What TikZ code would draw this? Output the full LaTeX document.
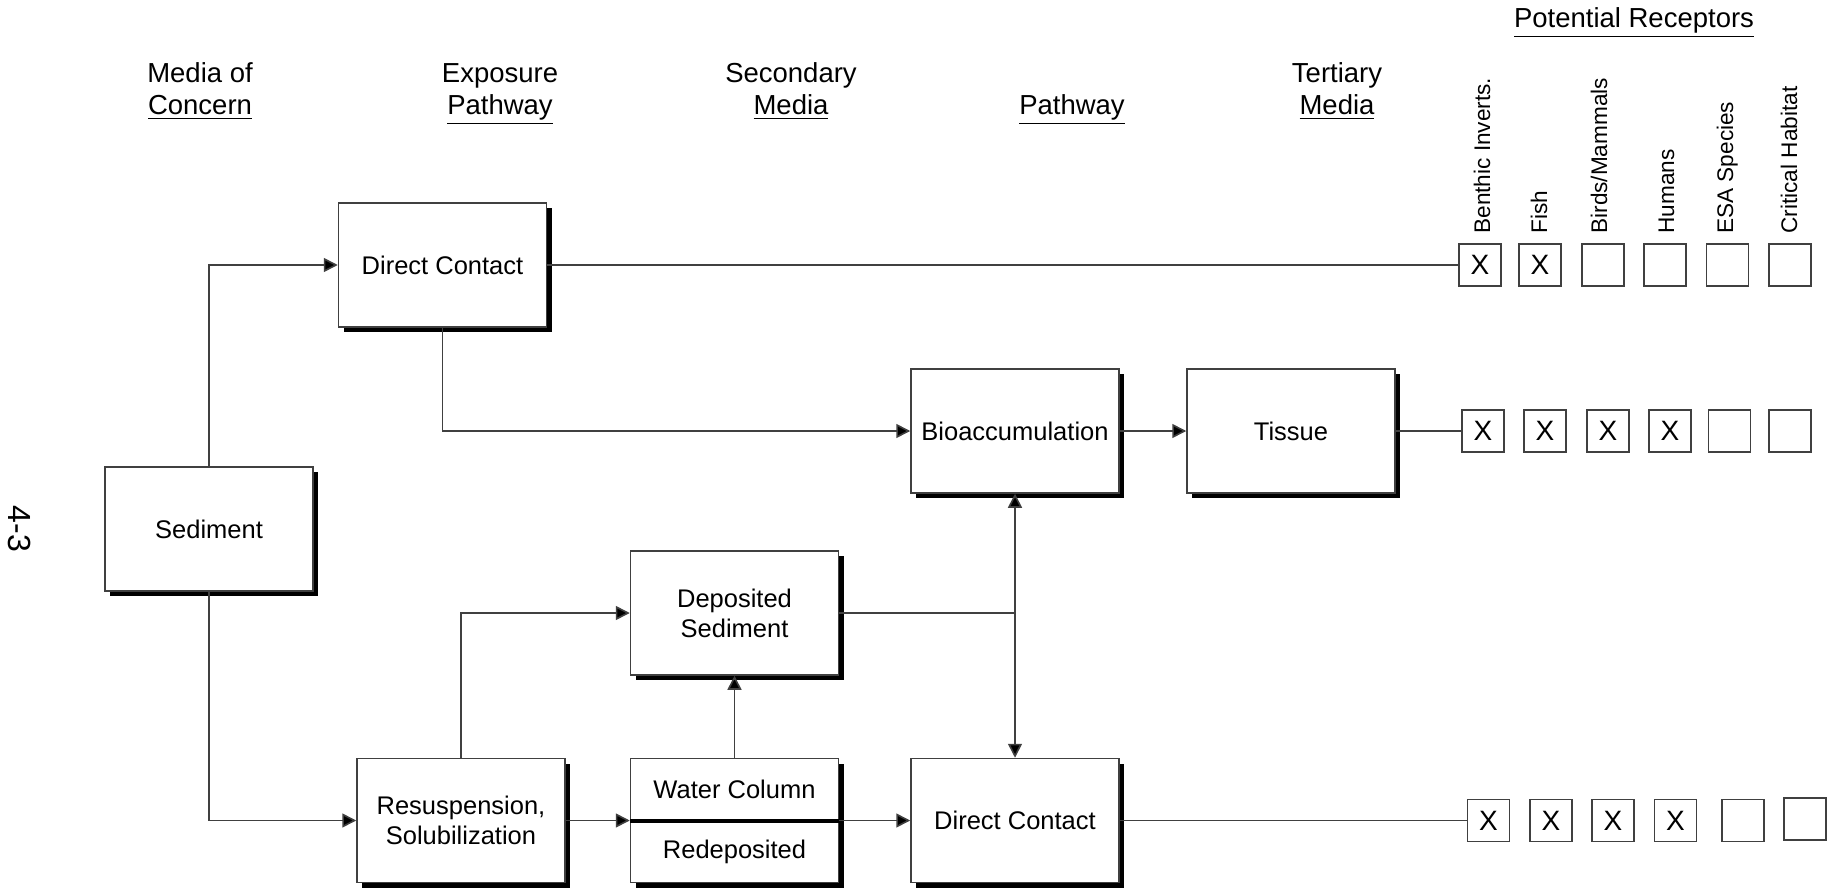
\documentclass[tikz,border=0pt]{standalone}
\usepackage{fontspec}
\setmainfont{Liberation Sans}
\usetikzlibrary{arrows.meta,shadows}
\newcommand{\ul}[1]{\underline{#1}}
\begin{document}
\begin{tikzpicture}[x=0.5pt,y=-0.5pt,
  box/.style={draw=black!75, line width=0.75pt, fill=white,
    minimum width=104pt, minimum height=62pt, inner sep=0pt, align=center,
    font=\fontsize{12.75}{15}\selectfont,
    drop shadow={shadow xshift=2.5pt, shadow yshift=-2.5pt, opacity=1, fill=black}},
  rbox/.style={draw=black!75, line width=0.75pt, fill=white, minimum size=21pt,
    inner sep=0pt, font=\fontsize{14}{16}\selectfont},
  link/.style={draw=black!75, line width=0.8pt},
  arr/.style={link, -{Triangle[length=7pt,width=7pt,fill=black]}},
  head/.style={anchor=base, inner sep=0pt, font=\fontsize{13.75}{16}\selectfont},
  rlabel/.style={rotate=90, anchor=base west, inner sep=0pt,
    font=\fontsize{11.3}{13}\selectfont}
]
\useasboundingbox (0,0) rectangle (1832,888);

% column headings
\node[head] (h1a) at (200,83) {Media of};
\node[head] (h1b) at (200,115) {\ul{Concern}};
\node[head] (h2a) at (500,83) {Exposure};
\node[head] (h2b) at (500,115) {\ul{Pathway}};
\node[head] (h3a) at (791,83) {Secondary};
\node[head] (h3b) at (791,115) {\ul{Media}};
\node[head] (h4b) at (1072,115) {\ul{Pathway}};
\node[head] (h5a) at (1337,83) {Tertiary};
\node[head] (h5b) at (1337,115) {\ul{Media}};
\node[head] (h6) at (1634,28) {\ul{Potential Receptors}};

% page number
\node[rotate=-90, inner sep=0pt, font=\fontsize{16}{18}\selectfont] (pg) at (20,529) {4-3};

% receptor labels
\node[rlabel] (lb1) at (1490,234) {Benthic Inverts.};
\node[rlabel] (lb2) at (1547,234) {Fish};
\node[rlabel] (lb3) at (1607,234) {Birds/Mammals};
\node[rlabel] (lb4) at (1674,234) {Humans};
\node[rlabel] (lb5) at (1733,234) {ESA Species};
\node[rlabel] (lb6) at (1797,234) {Critical Habitat};

% process boxes
\node[box] (sed) at (209,529) {Sediment};
\node[box] (dc1) at (442.5,265) {Direct Contact};
\node[box] (bio) at (1015,431) {Bioaccumulation};
\node[box] (tis) at (1291,431) {Tissue};
\node[box] (dep) at (734.5,613) {Deposited\\Sediment};
\node[box] (wc) at (734.5,820.5) {};
\node[font=\fontsize{12.75}{15}\selectfont] (wct) at (734.5,789.5) {Water Column};
\node[font=\fontsize{12.75}{15}\selectfont] (wcb) at (734.5,852) {Redeposited};
\draw[black, line width=2pt] (wc.west) -- (wc.east);
\node[box] (dc2) at (1015,820.5) {Direct Contact};
\node[box] (res) at (461,820.5) {Resuspension,\\Solubilization};

% receptor check boxes
\node[rbox] (a1) at (1480,265) {X};
\node[rbox] (a2) at (1540,265) {X};
\node[rbox] (a3) at (1603,265) {};
\node[rbox] (a4) at (1665,265) {};
\node[rbox] (a5) at (1727.5,265) {};
\node[rbox] (a6) at (1790,265) {};

\node[rbox] (b1) at (1483,431) {X};
\node[rbox] (b2) at (1545,431) {X};
\node[rbox] (b3) at (1608,431) {X};
\node[rbox] (b4) at (1670,431) {X};
\node[rbox] (b5) at (1729.5,431) {};
\node[rbox] (b6) at (1790,431) {};

\node[rbox] (c1) at (1488.5,820.5) {X};
\node[rbox] (c2) at (1551,820.5) {X};
\node[rbox] (c3) at (1613,820.5) {X};
\node[rbox] (c4) at (1675.5,820.5) {X};
\node[rbox] (c5) at (1743,820.5) {};
\node[rbox] (c6) at (1805,819) {};

% connectors
\draw[arr] (sed.north) |- (dc1.west);
\draw[arr] (sed.south) |- (res.west);
\draw[link] (dc1.east) -- (a1.west);
\draw[arr] (dc1.south) |- (bio.west);
\draw[arr] (bio.east) -- (tis.west);
\draw[link] (tis.east) -- (b1.west);
\draw[arr] (res.north) |- (dep.west);
\draw[arr] (res.east) -- (wc.west);
\draw[arr] (wc.north) -- (dep.south);
\draw[arr] (wc.east) -- (dc2.west);
\coordinate (jn) at (dep.east -| bio.south);
\draw[link] (dep.east) -- (jn);
\draw[arr] (jn) -- (bio.south);
\draw[arr] (jn) -- (dc2.north);
\draw[link] (dc2.east) -- (c1.west);
\end{tikzpicture}
\end{document}
